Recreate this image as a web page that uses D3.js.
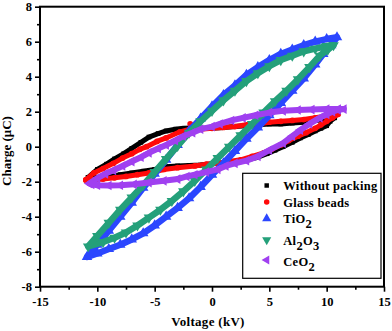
<!DOCTYPE html>
<html><head><meta charset="utf-8">
<script src="https://cdn.jsdelivr.net/npm/d3@7"></script>
<style>
html,body{margin:0;padding:0;background:#fff;}
</style></head>
<body><svg id="c" width="392" height="331"></svg>
<script>
// ---------- data ----------
const xTicks = [-15,-10,-5,0,5,10,15];
const yTicks = [-8,-6,-4,-2,0,2,4,6,8];
const seriesNames = ["Without packing","Glass beads","TiO2","Al2O3","CeO2"];
const seriesColors = ["#000000","#ff0a0a","#2b46ff","#24a07a","#a040f0"];

const noPackV = [-10.8,-10,-9.2,-8.5,-7.7,-7,-6.2,-5.5,-4.7,-4,-3.2,-2.5,-1.7,-1,0,1,2,3,4,5,6,7,8,9,10,10.7,
                 10.3,10,9.5,9,8.4,7.7,7,6.2,5.5,4.8,4,2.7,1.5,0.5,-0.3,-1,-2,-3,-4,-5,-6,-7,-8,-9,-10,-10.8];
const noPackQ = [-1.75,-1.3,-1.0,-0.7,-0.4,-0.1,0.25,0.55,0.75,0.9,1.0,1.05,1.07,1.05,1.05,1.1,1.15,1.2,1.25,1.3,1.3,1.35,1.4,1.5,1.55,1.65,
                 1.45,1.2,1.05,0.9,0.7,0.5,0.25,0.0,-0.2,-0.4,-0.6,-0.8,-0.9,-0.95,-1.0,-1.05,-1.07,-1.1,-1.15,-1.3,-1.4,-1.5,-1.6,-1.7,-1.75,-1.75];

const glassV = [-11,-10.3,-9.5,-8.6,-7.8,-7,-6.3,-5.7,-4.8,-4,-2.8,-1.9,-1,0,1,2,3,4,5,6,7,8,9,10,11,
                10.5,10,9.5,9,8.2,7.5,6.7,6,5.2,4.5,3.5,2.5,1.5,0.5,-0.5,-1.5,-3,-4.2,-5.5,-6.5,-7.5,-8.5,-9.5,-10.3,-11];
const glassQ = [-1.9,-1.5,-1.25,-0.95,-0.65,-0.4,-0.15,0.0,0.3,0.5,0.85,1.0,1.0,1.05,1.1,1.15,1.25,1.3,1.4,1.45,1.5,1.55,1.65,1.75,1.85,
                1.65,1.45,1.25,1.05,0.8,0.6,0.35,0.1,-0.15,-0.35,-0.55,-0.75,-0.85,-0.95,-1.0,-1.1,-1.2,-1.3,-1.5,-1.6,-1.7,-1.78,-1.85,-1.9,-1.9];
const glassStrayV = [-1.9];
const glassStrayQ = [1.3];

const tioV = [-10.9,-10,-9,-8,-7,-6,-5,-4,-3,-2,-1,0,1,2,3,4,5,6,7,8,9,10,10.9,
              10.4,9.7,9,8,7,6,5,4,3,2,1,0,-1,-2,-3,-4,-5,-6,-7,-8,-9,-10];
const tioQ = [-6.3,-5.6,-4.8,-4.0,-3.2,-2.35,-1.55,-0.75,0.1,0.9,1.6,2.3,2.95,3.5,4.1,4.55,4.95,5.3,5.55,5.8,6.0,6.15,6.25,
              5.8,5.3,4.7,3.9,3.2,2.5,1.8,1.1,0.45,-0.25,-0.95,-1.6,-2.3,-2.95,-3.5,-4.0,-4.5,-4.95,-5.3,-5.6,-5.85,-6.1];

const alV = [-10.8,-10,-9,-8,-7,-6,-5,-4,-3,-2,-1,0,1,2,3,4,5,6,7,8,9,10,10.6,
             10.1,9.4,8.5,7.5,6.5,5.5,4.5,3.5,2.5,1.5,0.5,-0.5,-1.5,-2.5,-3.5,-4.5,-5.5,-6.5,-7.5,-8.5,-9.5];
const alQ = [-5.7,-5.1,-4.35,-3.6,-2.9,-2.2,-1.45,-0.7,0.05,0.8,1.45,2.05,2.65,3.2,3.75,4.2,4.6,4.95,5.2,5.45,5.6,5.75,5.8,
             5.55,5.2,4.55,3.85,3.2,2.6,1.95,1.3,0.65,0.0,-0.65,-1.3,-1.95,-2.55,-3.1,-3.6,-4.05,-4.5,-4.9,-5.2,-5.45];

const ceoV = [-10.7,-10,-9.3,-8.6,-7.8,-7,-6.2,-5.5,-4.7,-4,-3.2,-2.5,-1.7,-1,0,0.7,1.7,2.7,3.8,5,6.2,7.5,8.7,10,11,11.5,
              11,10.5,10,9.4,8.5,7.7,7,6.2,5,4,3,2,1.2,0.5,-0.5,-1.5,-2.2,-3,-4.2,-5.5,-6.8,-8,-9,-10,-10.5];
const ceoQ = [-2.1,-1.8,-1.55,-1.35,-1.1,-0.85,-0.6,-0.35,-0.1,0.1,0.35,0.6,0.8,1.0,1.15,1.3,1.5,1.65,1.8,1.95,2.05,2.1,2.12,2.15,2.15,2.15,
              2.1,2.0,1.85,1.65,1.3,0.95,0.6,0.2,-0.2,-0.55,-0.8,-0.95,-1.1,-1.3,-1.45,-1.6,-1.7,-1.85,-1.95,-2.05,-2.15,-2.2,-2.22,-2.2,-2.15];

// ---------- layout ----------
const FONT = "Liberation Serif";
const svg = d3.select("#c");
const L = 40, R = 384, T = 6.7, B = 286.7;
const x = d3.scaleLinear().domain([-15,15]).range([L,R]);
const y = d3.scaleLinear().domain([-8,8]).range([B,T]);

const series = [
  {V:noPackV,Q:noPackQ,sym:d3.symbolSquare,size:22,rot:0,w:5,ls:20},
  {V:glassV,Q:glassQ,sym:d3.symbolCircle,size:26,rot:0,w:5,ls:24},
  {V:tioV,Q:tioQ,sym:d3.symbolTriangle,size:48,rot:0,w:6.5,ls:36},
  {V:alV,Q:alQ,sym:d3.symbolTriangle,size:48,rot:180,w:6.5,ls:36},
  {V:ceoV,Q:ceoQ,sym:d3.symbolTriangle,size:40,rot:-90,w:6,ls:34}
];

const plot = svg.append("g");
const line = d3.line().x(d=>x(d[0])).y(d=>y(d[1])).curve(d3.curveLinearClosed);
series.forEach((s,i)=>{
  const pts = s.V.map((v,k)=>[v,s.Q[k]]);
  if(i===1) glassStrayV.forEach((v,k)=>pts.push([v,glassStrayQ[k]]));
  const g = plot.append("g");
  g.append("path").attr("d",line(s.V.map((v,k)=>[v,s.Q[k]]))).attr("fill","none")
    .attr("stroke",seriesColors[i]).attr("stroke-width",s.w).attr("stroke-linejoin","round");
  g.selectAll("path.m").data(pts).enter().append("path").attr("class","m")
    .attr("d",d3.symbol().type(s.sym).size(s.size))
    .attr("transform",d=>`translate(${x(d[0])},${y(d[1])}) rotate(${s.rot})`)
    .attr("fill",seriesColors[i]);
});

// ---------- axes ----------
const xMinor = d3.range(-15,15.01,2.5).filter(v=>!xTicks.includes(v));
const yMinor = d3.range(-8,8.01,1).filter(v=>!yTicks.includes(v));
const fmt = d=> d<0 ? "-"+Math.abs(d) : String(d);

const gx = svg.append("g").attr("transform",`translate(0,${B})`)
  .call(d3.axisBottom(x).tickValues(xTicks).tickSize(5).tickPadding(5).tickFormat(fmt));
const gxm = svg.append("g").attr("transform",`translate(0,${B})`)
  .call(d3.axisBottom(x).tickValues(xMinor).tickSize(3).tickFormat(""));
const gy = svg.append("g").attr("transform",`translate(${L},0)`)
  .call(d3.axisLeft(y).tickValues(yTicks).tickSize(5).tickPadding(3).tickFormat(fmt));
const gym = svg.append("g").attr("transform",`translate(${L},0)`)
  .call(d3.axisLeft(y).tickValues(yMinor).tickSize(3).tickFormat(""));
[gx,gxm,gy,gym].forEach(g=>{
  g.attr("font-family",FONT).attr("font-weight","bold").attr("font-size",12.5);
  g.select(".domain").remove();
  g.selectAll("line").attr("stroke","#000").attr("stroke-width",1.6);
  g.selectAll("text").attr("fill","#000");
});

svg.append("rect").attr("x",L).attr("y",T).attr("width",R-L).attr("height",B-T)
  .attr("fill","none").attr("stroke","#000").attr("stroke-width",2);

// axis titles
svg.append("text").attr("x",208).attr("y",326).attr("text-anchor","middle")
  .attr("font-family",FONT).attr("font-weight","bold")
  .attr("font-size",13).attr("letter-spacing",0.3).text("Voltage (kV)");
svg.append("text").attr("transform","translate(11,151) rotate(-90)").attr("text-anchor","middle")
  .attr("font-family",FONT).attr("font-weight","bold")
  .attr("font-size",13).text("Charge (\u03bcC)");

// ---------- legend ----------
const lg = svg.append("g").attr("font-family",FONT).attr("font-weight","bold");
lg.append("rect").attr("x",242.7).attr("y",173.3).attr("width",138.3).attr("height",105)
  .attr("fill","#fff").attr("stroke","#000").attr("stroke-width",1.2);
const symY = [185.5,202,218.5,240,260];
const txtY = [190,207,222.5,245,265.5];
const labelParts = [
  [["Without packing",0]],
  [["Glass beads",0]],
  [["TiO",0],["2",1]],
  [["Al",0],["2",1],["O",0],["3",1]],
  [["CeO",0],["2",1]]
];
series.forEach((s,i)=>{
  lg.append("path").attr("d",d3.symbol().type(s.sym).size(s.ls))
    .attr("transform",`translate(266.7,${symY[i]}) rotate(${s.rot})`).attr("fill",seriesColors[i]);
  const t = lg.append("text").attr("x",283.3).attr("y",txtY[i]).attr("font-size",12.5).attr("letter-spacing",0.3);
  let prevSub = 0;
  labelParts[i].forEach(p=>{
    const sub = p[1];
    const ts = t.append("tspan").text(p[0]);
    if(sub!==prevSub) ts.attr("dy",sub?5:-5);
    prevSub = sub;
  });
});
</script></body></html>
